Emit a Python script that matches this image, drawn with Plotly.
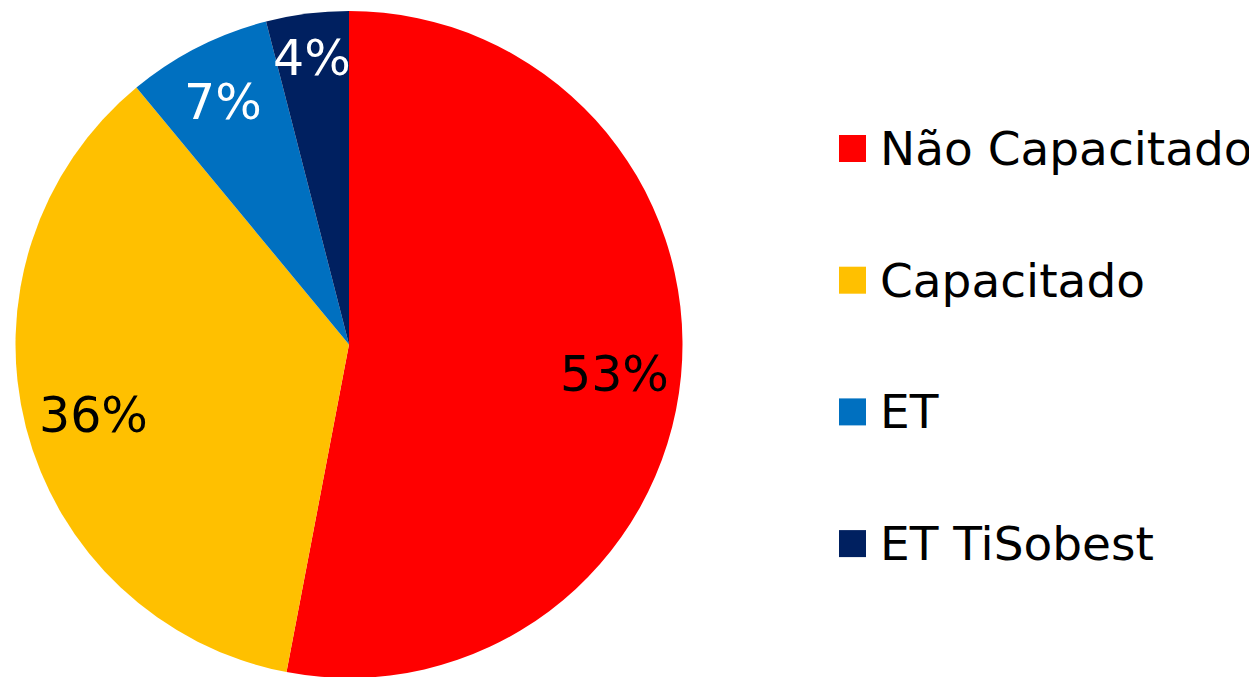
import math
import plotly.graph_objects as go

# ---- data ----
categories = ["Não Capacitado", "Capacitado", "ET", "ET TiSobest"]
values = [53, 36, 7, 4]
colors = ["#FF0000", "#FFC000", "#0070C0", "#002060"]
label_colors = ["black", "black", "white", "white"]

# ---- layout parameters (figure pixel coords; page has 8px body margin) ----
OFF = 8
W, H = 1257, 677
M_T, M_B = 3, 7
PLOT_H = H - M_T - M_B
PIE_LEFT_PX = 349 - OFF - PLOT_H / 2
PIE_SIZE = PLOT_H
FONT = "DejaVu Sans"
FS_PCT = 49
FS_LEG = 47
label_radius = [0.80, 0.79, 0.83, 0.88]
label_yshift = -5


def to_paper(px, py):
    return px / W, (H - M_B - py) / PLOT_H


fig = go.Figure(go.Pie(
    labels=categories, values=values, sort=False, direction="clockwise",
    rotation=0, marker=dict(colors=colors, line=dict(width=0)),
    textinfo="none", hoverinfo="label+percent", showlegend=False,
    domain=dict(x=[PIE_LEFT_PX / W, (PIE_LEFT_PX + PIE_SIZE) / W], y=[0, 1]),
))

cx = PIE_LEFT_PX + PIE_SIZE / 2
cy = M_T + PLOT_H / 2
R = PIE_SIZE / 2
total = sum(values)
annotations = []
shapes = []
cum = 0
for i, v in enumerate(values):
    mid = (cum + v / 2) / total * 2 * math.pi
    cum += v
    px = cx + R * label_radius[i] * math.sin(mid)
    py = cy - R * label_radius[i] * math.cos(mid)
    x, y = to_paper(px, py)
    annotations.append(dict(
        x=x, y=y, xref="paper", yref="paper", yshift=label_yshift,
        text=f"{round(v / total * 100)}%", showarrow=False,
        font=dict(family=FONT, size=FS_PCT, color=label_colors[i]),
        xanchor="center", yanchor="middle"))

# manual legend (page coords minus body offset)
LEG_X0, LEG_SQ, LEG_Y0, LEG_DY, LEG_TX = 839 - OFF, 27, 148.5 - OFF, 131.7, 878 - OFF
for i, name in enumerate(categories):
    yc = LEG_Y0 + i * LEG_DY
    x0, y0 = to_paper(LEG_X0, yc + LEG_SQ / 2)
    x1, y1 = to_paper(LEG_X0 + LEG_SQ, yc - LEG_SQ / 2)
    shapes.append(dict(
        type="rect", xref="paper", yref="paper", x0=x0, x1=x1, y0=y0, y1=y1,
        fillcolor=colors[i], line=dict(width=0)))
    tx, ty = to_paper(LEG_TX, yc)
    annotations.append(dict(
        x=tx, y=ty, xref="paper", yref="paper",
        text=name, showarrow=False, font=dict(family=FONT, size=FS_LEG, color="black"),
        xanchor="left", yanchor="middle"))

fig.update_layout(
    width=W, height=H, margin=dict(l=0, r=0, t=M_T, b=M_B),
    paper_bgcolor="white", plot_bgcolor="white",
    annotations=annotations, shapes=shapes,
)
fig.write_html("out.html")
